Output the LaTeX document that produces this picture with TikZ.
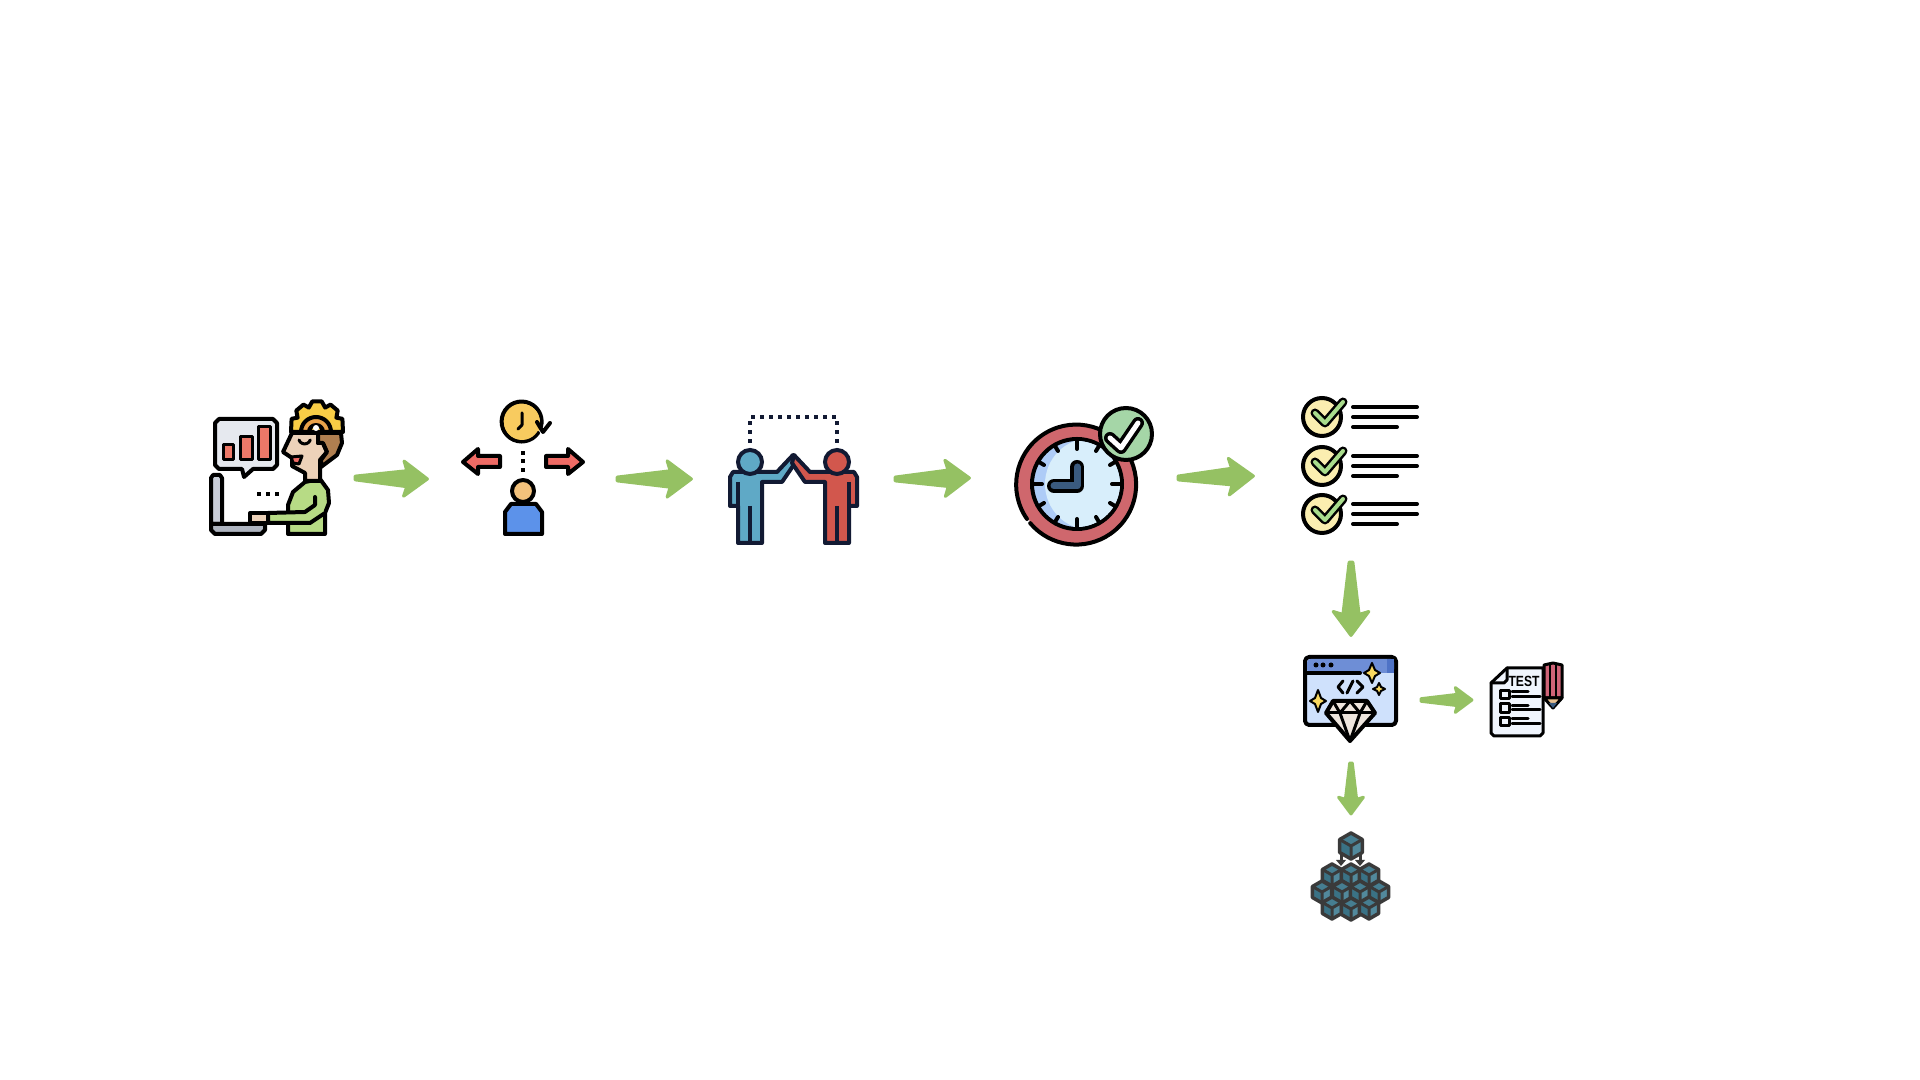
\documentclass[tikz,border=0pt]{standalone}
\usepackage{fontspec}
\setmainfont{Liberation Sans}
\usetikzlibrary{calc}
\definecolor{flowgreen}{HTML}{95C163}
\definecolor{chatgray}{HTML}{E6E9EF}
\definecolor{barred}{HTML}{EC7868}
\definecolor{screengray}{HTML}{C9CED9}
\definecolor{basegray}{HTML}{AEB4C0}
\definecolor{shirtgreen}{HTML}{B7DB85}
\definecolor{skintone}{HTML}{EDD2B9}
\definecolor{hairbrown}{HTML}{B07F50}
\definecolor{gearyellow}{HTML}{F8CD46}
\definecolor{ringorange}{HTML}{E9A24A}
\definecolor{clockyellow}{HTML}{F8CB5F}
\definecolor{arrowred}{HTML}{EF6B65}
\definecolor{headtan}{HTML}{F3C27C}
\definecolor{coatblue}{HTML}{5C92EA}
\definecolor{navyink}{HTML}{121A33}
\definecolor{teamblue}{HTML}{5FA9C6}
\definecolor{teamred}{HTML}{D2574D}
\definecolor{ringred}{HTML}{CF676D}
\definecolor{facepale}{HTML}{D8EEFB}
\definecolor{facedeep}{HTML}{AECCF7}
\definecolor{handnavy}{HTML}{3A5A7E}
\definecolor{badgegreen}{HTML}{A5D6A7}
\definecolor{creamfill}{HTML}{FBEEB0}
\definecolor{tickgreen}{HTML}{A9DC8C}
\definecolor{barblue}{HTML}{6E8ED6}
\definecolor{bardeep}{HTML}{4F73C6}
\definecolor{pageblue}{HTML}{CFE1FC}
\definecolor{sparkyellow}{HTML}{F8D860}
\definecolor{gemsand}{HTML}{EEE5DD}
\definecolor{sheetblue}{HTML}{F0F5FD}
\definecolor{pencilred}{HTML}{CF6377}
\definecolor{pencilsand}{HTML}{E9C08F}
\definecolor{cubeink}{HTML}{3A3A3A}
\definecolor{cubeleft}{HTML}{3A7285}
\definecolor{cuberight}{HTML}{52899C}
\definecolor{cubetop}{HTML}{467E91}
\tikzset{
  iconbox/.style={rectangle,inner sep=0pt,outer sep=0pt},
  ink/.style={draw=black,line width=0.04cm,line join=round,line cap=round},
  finink/.style={draw=black,line width=0.03cm,line join=round,line cap=round},
  sparkink/.style={draw=black,line width=0.02cm,line join=round,fill=sparkyellow},
  flowarrow/.style={fill=flowgreen,draw=flowgreen,line width=0.03cm,line join=round,
    to path={($(\tikztostart)!0.025!90:(\tikztotarget)$)
      -- ($(\tikztostart)!0.7!(\tikztotarget)!0.36!90:(\tikztotarget)$)
      -- ($(\tikztostart)!0.66!(\tikztotarget)!0.7!90:(\tikztotarget)$)
      -- ($(\tikztostart)!0.98!(\tikztotarget)$)
      -- ($(\tikztostart)!0.66!(\tikztotarget)!0.7!-90:(\tikztotarget)$)
      -- ($(\tikztostart)!0.7!(\tikztotarget)!0.36!-90:(\tikztotarget)$)
      -- ($(\tikztostart)!0.025!-90:(\tikztotarget)$) -- cycle}},
  testtext/.style={inner sep=0pt,font=\fontsize{4.2}{5}\selectfont\bfseries}
}
\newcommand{\stackcube}[3]{
\begin{scope}[shift={(#1,#2)},scale=#3]
\fill[cubeleft] (-0.87,-0.5) -- (0,0) -- (0,1) -- (-0.87,0.5) -- cycle;
\fill[cuberight] (0.87,-0.5) -- (0,0) -- (0,1) -- (0.87,0.5) -- cycle;
\fill[cubetop] (0,-1) -- (0.87,-0.5) -- (0,0) -- (-0.87,-0.5) -- cycle;
\draw[cubeink,line width=0.035cm,line join=round] (0,-1) -- (0.87,-0.5) -- (0.87,0.5) -- (0,1) -- (-0.87,0.5) -- (-0.87,-0.5) -- cycle;
\draw[cubeink,line width=0.03cm,line join=round] (-0.87,-0.5) -- (0,0) -- (0.87,-0.5) (0,0) -- (0,1);
\end{scope}
}
\begin{document}
\begin{tikzpicture}[x=0.01cm,y=-0.01cm]
\useasboundingbox (0,0) rectangle (1920,1080);
\node[iconbox,minimum width=1.5cm,minimum height=1.6cm] (dev) at (280,478) {};
\node[iconbox,minimum width=1.88cm,minimum height=1.2cm] (plan) at (523,479) {};
\node[iconbox,minimum width=2.02cm,minimum height=1.3cm] (team) at (794,479) {};
\node[iconbox,minimum width=2.07cm,minimum height=1.4cm] (deadline) at (1074.5,478) {};
\node[iconbox,minimum width=1.92cm,minimum height=1.72cm] (checks) at (1351,476) {};
\node[iconbox,minimum width=1.4cm,minimum height=1.26cm] (gem) at (1351,700) {};
\node[iconbox,minimum width=1.02cm,minimum height=0.9cm] (testsheet) at (1524,700) {};
\node[iconbox,minimum width=1.2cm,minimum height=1.3cm] (cubes) at (1351,880) {};
\fill[flowarrow] (dev.east) to (plan.west);
\fill[flowarrow] (plan.east) to (team.west);
\fill[flowarrow] (team.east) to (deadline.west);
\fill[flowarrow] (deadline.east) to (checks.west);
\fill[flowarrow] (checks.south) to (gem.north);
\fill[flowarrow] (gem.east) to (testsheet.west);
\fill[flowarrow] (gem.south) to (cubes.north);
\draw[ink,fill=chatgray] (219,419) -- (273,419) -- (277,423) -- (277,465) -- (273,469) -- (253,469) -- (244,477) -- (242,469) -- (219,469) -- (215,465) -- (215,423) -- cycle;
\draw[finink,fill=barred] (223,445) rectangle (233,460);
\draw[finink,fill=barred] (240,437) rectangle (252,460);
\draw[finink,fill=barred] (258,427) rectangle (270,460);
\draw[ink,fill=screengray] (213,475) -- (220,475) -- (222,478) -- (222,524) -- (211,524) -- (211,478) -- cycle;
\draw[ink,fill=basegray] (211,524) -- (265,524) -- (265,530) -- (261,534) -- (215,534) -- (211,530) -- cycle;
\fill[black] (257,492) rectangle (261,496);
\fill[black] (266,492) rectangle (270,496);
\fill[black] (275,492) rectangle (279,496);
\draw[ink,fill=shirtgreen] (305,482) -- (320,479) -- (328,490) -- (329,503) -- (325,513) -- (325,534) -- (288,534) -- (288,505) -- (293,492) -- cycle;
\draw[ink,fill=skintone] (250,513) -- (268,513) -- (268,523) -- (250,523) -- (250,516) -- cycle;
\draw[ink,fill=shirtgreen] (315,497) -- (315,505) -- (305,512) -- (268,513) -- (268,523) -- (310,523) -- (325,513);
\draw[ink,fill=skintone] (292,433) -- (283,452) -- (292,458) -- (292,466) -- (305,473) -- (305,481) -- (320,481) -- (320,460) -- (327,452) -- (323,443) -- (318,443) -- (318,433) -- cycle;
\draw[ink,fill=hairbrown] (318,433) -- (341,433) -- (342,443) -- (337,455) -- (321,467) -- (321,460) -- (327,452) -- (323,443) -- (318,443) -- cycle;
\draw[ink,fill=gearyellow] (291,432) -- (291.6,418.8) -- (297.6,417.7) -- (296.3,410.6) -- (303.5,404.6) -- (308.8,407.6) -- (312.3,401.4) -- (321.7,401.4) -- (325.2,407.6) -- (330.5,404.6) -- (337.7,410.6) -- (336.4,417.7) -- (342.4,418.8) -- (343,432) -- cycle;
\draw[ink,fill=ringorange] (301,432) arc[start angle=180,end angle=360,radius=15] -- cycle;
\draw[ink,fill=gearyellow] (309,432) arc[start angle=180,end angle=360,radius=7] -- cycle;
\fill[white] (316,428) circle (3);
\draw[finink] (299,440) arc[start angle=160,end angle=20,radius=6];
\draw[finink,fill=arrowred] (291,457) -- (302,456) -- (299,464) -- (293,463) -- cycle;
\draw[ink,fill=clockyellow] (538,433) arc[start angle=35,end angle=375,radius=20];
\fill[clockyellow] (522,422) circle (18);
\draw[finink] (522,413) -- (522,425) -- (518,429);
\draw[ink] (537,422) -- (543,432) -- (550,423);
\draw[ink,fill=arrowred] (463,462) -- (478,449) -- (478,456) -- (500,456) -- (500,467) -- (478,467) -- (478,474) -- cycle;
\draw[ink,fill=arrowred] (583,462) -- (568,449) -- (568,456) -- (546,456) -- (546,467) -- (568,467) -- (568,474) -- cycle;
\fill[black] (521,451) rectangle (525,455);
\fill[black] (521,459) rectangle (525,463);
\fill[black] (521,468) rectangle (525,472);
\draw[ink,fill=coatblue] (505,534) -- (505,512) -- (511,504) -- (536,504) -- (542,512) -- (542,534) -- cycle;
\draw[ink,fill=headtan] (523,491) circle (11);
\draw[navyink,line width=0.04cm,dash pattern=on 0.04cm off 0.05cm] (750,443) -- (750,417) -- (837,417) -- (837,443);
\draw[navyink,line width=0.04cm,line join=round,fill=teamblue] (730,506) -- (730,477) -- (733,472) -- (777,472) -- (793,455) -- (795,463) -- (782,482) -- (762,482) -- (762,543) -- (738,543) -- (738,506) -- cycle;
\draw[navyink,line width=0.04cm,line join=round,fill=teamred] (857,506) -- (857,477) -- (854,472) -- (810,472) -- (794,455) -- (792,463) -- (805,482) -- (825,482) -- (825,543) -- (849,543) -- (849,506) -- cycle;
\draw[navyink,line width=0.04cm] (738,482) -- (738,506);
\draw[navyink,line width=0.04cm] (750,506) -- (750,543);
\draw[navyink,line width=0.04cm] (849,482) -- (849,506);
\draw[navyink,line width=0.04cm] (837,506) -- (837,543);
\draw[navyink,line width=0.04cm,fill=teamblue] (750,462) circle (12);
\draw[navyink,line width=0.04cm,fill=teamred] (837,462) circle (12);
\fill[ringred] (1077,484) circle (60);
\draw[ink] (1027,519) arc[start angle=145,end angle=500,radius=60];
\draw[ink,fill=facedeep] (1077,484) circle (45);
\begin{scope}
\clip (1077,484) circle (43);
\fill[facepale] (1091,484) circle (46);
\end{scope}
\draw[ink] (1077,440) -- (1077,449);
\draw[ink] (1077,519) -- (1077,528);
\draw[ink] (1112,484) -- (1121,484);
\draw[ink] (1033,484) -- (1042,484);
\draw[ink] (1096,451) -- (1099,446);
\draw[ink] (1110,465) -- (1115,462);
\draw[ink] (1110,503) -- (1115,506);
\draw[ink] (1096,517) -- (1099,522);
\draw[ink] (1058,517) -- (1055,522);
\draw[ink] (1044,503) -- (1039,506);
\draw[ink] (1044,465) -- (1039,462);
\draw[ink] (1058,451) -- (1055,446);
\draw[black,line width=0.14cm,line cap=round,line join=round] (1077,467) -- (1077,486) -- (1054,486);
\draw[handnavy,line width=0.07cm,line cap=round,line join=round] (1077,467) -- (1077,486) -- (1054,486);
\draw[ink,fill=badgegreen] (1126,434) circle (26);
\draw[black,line width=0.12cm,line cap=round,line join=round] (1110,438) -- (1121,448) -- (1138,423);
\draw[white,line width=0.05cm,line cap=round,line join=round] (1110,438) -- (1121,448) -- (1138,423);
\draw[ink,fill=creamfill] (1322,417) circle (19);
\draw[black,line width=0.09cm,line cap=round,line join=round] (1315,413) -- (1325,423) -- (1343,402);
\draw[tickgreen,line width=0.04cm,line cap=round,line join=round] (1315,413) -- (1325,423) -- (1343,402);
\draw[ink] (1353,407) -- (1417,407);
\draw[ink] (1353,417) -- (1417,417);
\draw[ink] (1353,427) -- (1397,427);
\draw[ink,fill=creamfill] (1322,466) circle (19);
\draw[black,line width=0.09cm,line cap=round,line join=round] (1315,462) -- (1325,472) -- (1343,451);
\draw[tickgreen,line width=0.04cm,line cap=round,line join=round] (1315,462) -- (1325,472) -- (1343,451);
\draw[ink] (1353,456) -- (1417,456);
\draw[ink] (1353,466) -- (1417,466);
\draw[ink] (1353,476) -- (1397,476);
\draw[ink,fill=creamfill] (1322,514) circle (19);
\draw[black,line width=0.09cm,line cap=round,line join=round] (1315,510) -- (1325,520) -- (1343,499);
\draw[tickgreen,line width=0.04cm,line cap=round,line join=round] (1315,510) -- (1325,520) -- (1343,499);
\draw[ink] (1353,504) -- (1417,504);
\draw[ink] (1353,514) -- (1417,514);
\draw[ink] (1353,524) -- (1397,524);
\draw[ink,fill=pageblue,rounded corners=1.2pt] (1305,657) rectangle (1396,725);
\fill[barblue,rounded corners=1pt] (1307,659) rectangle (1394,673);
\fill[bardeep] (1387,659) rectangle (1394,673);
\draw[ink] (1305,673) -- (1360,673);
\fill[black] (1316,665) circle (2.5);
\fill[black] (1323,665) circle (2.5);
\fill[black] (1331,665) circle (2.5);
\draw[finink] (1343,681) -- (1338,687) -- (1343,693);
\draw[finink] (1353,681) -- (1347,693);
\draw[finink] (1357,681) -- (1363,687) -- (1357,693);
\draw[sparkink] (1372,663) -- (1375,670) -- (1380,673) -- (1375,676) -- (1372,683) -- (1369,676) -- (1364,673) -- (1369,670) -- cycle;
\draw[sparkink] (1379,683) -- (1381,687) -- (1385,689) -- (1381,691) -- (1379,695) -- (1377,691) -- (1373,689) -- (1377,687) -- cycle;
\draw[sparkink] (1318,690) -- (1321,698) -- (1326,701) -- (1321,704) -- (1318,712) -- (1315,704) -- (1310,701) -- (1315,698) -- cycle;
\draw[ink,fill=gemsand] (1333,701) -- (1367,701) -- (1375,713) -- (1350,741) -- (1326,713) -- cycle;
\draw[finink] (1326,713) -- (1375,713);
\draw[finink] (1333,701) -- (1340,713) -- (1350,701) -- (1360,713) -- (1367,701);
\draw[finink] (1340,713) -- (1350,741) -- (1360,713);
\draw[finink,fill=sheetblue] (1507,668) -- (1543,668) -- (1543,733) -- (1540,736) -- (1494,736) -- (1491,733) -- (1491,683) -- cycle;
\draw[finink] (1491,683) -- (1504,683) -- (1507,680) -- (1507,668);
\node[testtext] (testlabel) at (1524,681) {\scalebox{0.82}[1]{TEST}};
\draw[finink] (1500,691) rectangle (1509,699);
\draw[finink] (1500,704) rectangle (1509,713);
\draw[finink] (1500,718) rectangle (1509,726);
\draw[finink] (1512,692) -- (1528,692);
\draw[finink] (1512,697) -- (1540,697);
\draw[finink] (1512,706) -- (1528,706);
\draw[finink] (1512,710) -- (1540,710);
\draw[finink] (1512,719) -- (1528,719);
\draw[finink] (1512,724) -- (1540,724);
\draw[finink,fill=pencilred] (1544,665) -- (1553,663) -- (1562,665) -- (1562,698) -- (1544,698) -- cycle;
\draw[finink,fill=pencilsand] (1544,698) -- (1562,698) -- (1553,708) -- cycle;
\fill[handnavy] (1549,703) -- (1557,703) -- (1553,708) -- cycle;
\draw[draw=black,line width=0.015cm] (1550,665) -- (1550,698);
\draw[draw=black,line width=0.015cm] (1556,665) -- (1556,698);
\stackcube{1351}{846}{13}
\draw[cubeink,line width=0.03cm] (1341,853) -- (1341,863);
\draw[cubeink,line width=0.03cm] (1360,853) -- (1360,863);
\fill[cubeink] (1336,860) -- (1346,860) -- (1341,866) -- cycle;
\fill[cubeink] (1355,860) -- (1365,860) -- (1360,866) -- cycle;
\stackcube{1332}{875}{11}
\stackcube{1351}{875}{11}
\stackcube{1369}{875}{11}
\stackcube{1322}{892}{11}
\stackcube{1342}{892}{11}
\stackcube{1360}{892}{11}
\stackcube{1379}{892}{11}
\stackcube{1332}{908}{11}
\stackcube{1351}{909}{11}
\stackcube{1369}{908}{11}
\end{tikzpicture}
\end{document}
